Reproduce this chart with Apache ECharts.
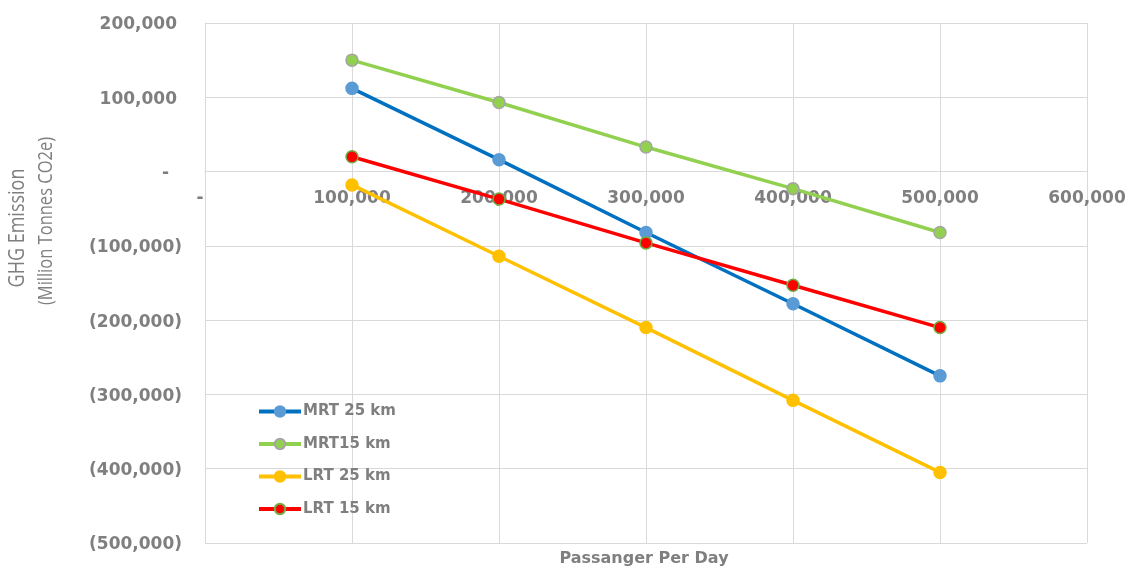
<!DOCTYPE html>
<html><head><meta charset="utf-8">
<script src="https://cdn.jsdelivr.net/npm/echarts@6/dist/echarts.min.js"></script>
<style>html,body{margin:0;padding:0;background:#fff}#c{width:1130px;height:569px}</style>
</head><body><div id="c"></div>
<script>
var passengers = [100000, 200000, 300000, 400000, 500000];
var seriesNames = ['MRT 25 km', 'MRT15 km', 'LRT 25 km', 'LRT 15 km'];
var mrt25 = [112000, 16000, -82000, -178000, -275000];
var mrt15 = [150000, 93000, 33000, -23000, -82000];
var lrt25 = [-18000, -114000, -210000, -308000, -405000];
var lrt15 = [20000, -37000, -96000, -153000, -210000];
var yTitle = ['GHG Emission', '(Million Tonnes CO2e)'];
var xTitle = 'Passanger Per Day';

var Y_MIN = -500000, Y_MAX = 200000;
var GRID = { left: 205, right: 43, top: 23, bottom: 26 };
var plotH = 569 - GRID.top - GRID.bottom;
// shift x axis from the bottom edge up to the zero line
var xAxisOffset = -plotH * (0 - Y_MIN) / (Y_MAX - Y_MIN);

function fmt(v) { return Math.abs(v).toLocaleString('en-US'); }
function pairs(vals) { return passengers.map(function (p, i) { return [p, vals[i]]; }); }

var gray = '#7f7f7f';
var lab = { color: gray, fontFamily: 'DejaVu Sans', fontWeight: 'bold', fontSize: 17 };

function mk(name, vals, line, fill, border) {
  return {
    name: name, type: 'line', data: pairs(vals), symbol: 'circle', symbolSize: 12,
    lineStyle: { color: line, width: 3.5 },
    itemStyle: { color: fill, borderColor: border, borderWidth: 1.5 },
    color: line
  };
}

var chart = echarts.init(document.getElementById('c'));
chart.setOption({
  animation: false,
  grid: GRID,
  xAxis: {
    type: 'value', min: 0, max: 600000, interval: 100000,
    offset: xAxisOffset,
    axisLine: { onZero: false, lineStyle: { color: '#d9d9d9', width: 1 } },
    axisTick: { show: false },
    splitLine: { show: true, lineStyle: { color: '#d9d9d9', width: 1 } },
    axisLabel: Object.assign({}, lab, {
      margin: 19,
      formatter: function (v) { return v === 0 ? '{z|-}' : fmt(v); },
      rich: { z: { color: gray, fontFamily: 'DejaVu Sans', fontWeight: 'bold', fontSize: 17, padding: [0, 10, 0, 0] } }
    })
  },
  yAxis: {
    type: 'value', min: Y_MIN, max: Y_MAX, interval: 100000,
    axisLine: { show: true, onZero: false, lineStyle: { color: '#d9d9d9', width: 1 } },
    axisTick: { show: false },
    splitLine: { show: true, lineStyle: { color: '#d9d9d9', width: 1 } },
    axisLabel: Object.assign({}, lab, {
      margin: 23,
      padding: [4, 0, 0, 0],
      formatter: function (v) {
        if (v === 0) return '{z|-}';
        if (v < 0) return '(' + fmt(v) + ')';
        return '{p|' + fmt(v) + '}';
      },
      rich: {
        z: { color: gray, fontFamily: 'DejaVu Sans', fontWeight: 'bold', fontSize: 17, padding: [0, 13, 0, 0] },
        p: { color: gray, fontFamily: 'DejaVu Sans', fontWeight: 'bold', fontSize: 17, padding: [0, 5, 0, 0] }
      }
    })
  },
  legend: {
    orient: 'vertical', left: 257, top: 404, padding: 0, itemWidth: 42, itemHeight: 13, itemGap: 17.5,
    lineStyle: { width: 4 },
    textStyle: { color: gray, fontFamily: 'DejaVu Sans', fontWeight: 'bold', fontSize: 15, padding: [0, 0, 0, -3] },
    data: seriesNames
  },
  graphic: [
    { type: 'text', x: 17.5, y: 228, rotation: Math.PI / 2, scaleY: 1.25,
      style: { text: yTitle[0], fill: gray, font: '18px "Open Sans"', textAlign: 'center', textVerticalAlign: 'middle' } },
    { type: 'text', x: 46, y: 221, rotation: Math.PI / 2, scaleY: 1.25,
      style: { text: yTitle[1], fill: gray, font: '16.5px "Open Sans"', textAlign: 'center', textVerticalAlign: 'middle' } },
    { type: 'text', x: 644, y: 559,
      style: { text: xTitle, fill: gray, font: 'bold 16px "DejaVu Sans"', textAlign: 'center', textVerticalAlign: 'middle' } }
  ],
  series: [
    mk(seriesNames[0], mrt25, '#0070C0', '#5B9BD5', '#5B9BD5'),
    mk(seriesNames[1], mrt15, '#92D050', '#92D050', '#A5A5A5'),
    mk(seriesNames[2], lrt25, '#FFC000', '#FFC000', '#FFC000'),
    mk(seriesNames[3], lrt15, '#FF0000', '#FF0000', '#70AD47')
  ]
});
</script></body></html>
